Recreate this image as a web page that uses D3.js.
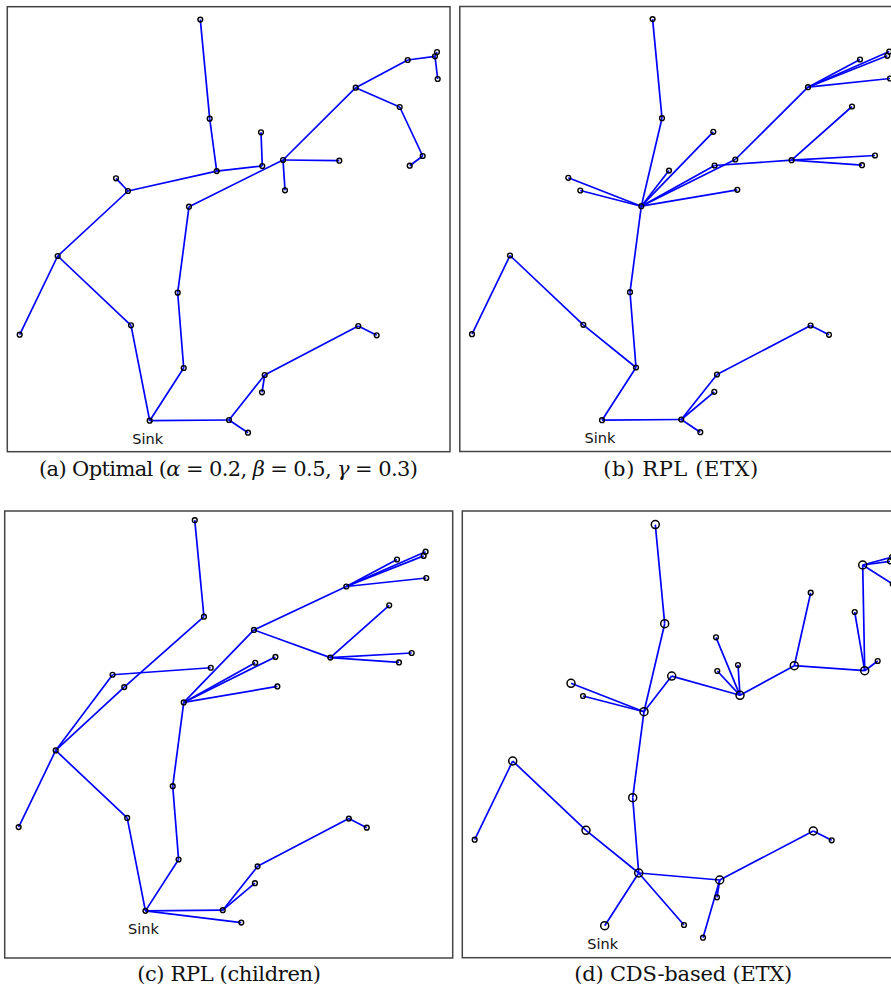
<!DOCTYPE html>
<html>
<head>
<meta charset="utf-8">
<script src="https://cdn.jsdelivr.net/npm/d3@7"></script>
<style>
  html, body { margin: 0; padding: 0; background: #fff; }
  svg { display: block; }
</style>
</head>
<body>
<div id="chart"></div>
<script>
// ---------------- DATA ----------------
// Node identifiers (node 25 is the sink)
const nodeIds = d3.range(1, 32);
// Node positions (field units, x to the right, y upwards)
const nodeX = [193.3, 202.7, 209.7, 254.0, 255.3, 276.0, 332.3, 278.0, 182.0, 121.0,
               109.0, 348.7, 400.7, 428.0, 430.0, 430.7, 392.7, 415.7, 402.7, 50.7,
               12.7, 124.0, 170.7, 176.7, 142.7, 222.0, 241.0, 257.7, 255.0, 351.3, 369.7];
const nodeY = [432.4, 333.3, 280.9, 319.7, 286.0, 292.0, 291.3, 261.7, 245.3, 261.0,
               273.7, 364.3, 392.0, 395.7, 400.0, 373.0, 345.0, 296.0, 286.3, 196.0,
               117.3, 126.7, 159.3, 84.0, 31.3, 32.0, 19.3, 77.0, 59.7, 126.0, 116.7];
const sinkId = 25;

// Tree links for each routing scheme
const edgesOptimal = [[1,2],[2,3],[3,5],[5,4],[3,10],[10,11],[10,20],[20,21],[20,22],[22,25],
  [25,24],[24,23],[23,9],[9,6],[6,7],[6,8],[6,12],[12,13],[13,14],[14,15],[14,16],[12,17],
  [17,18],[18,19],[25,26],[26,27],[26,28],[28,29],[28,30],[30,31]];
const edgesRplEtx = [[1,2],[2,9],[9,11],[9,10],[9,3],[9,4],[9,5],[9,6],[9,8],[5,7],[6,12],
  [12,13],[12,14],[12,15],[12,16],[7,17],[7,18],[7,19],[9,23],[23,24],[24,22],[22,20],[20,21],
  [24,25],[25,26],[26,27],[26,28],[26,29],[28,30],[30,31]];
const edgesRplChildren = [[1,2],[2,10],[10,20],[20,11],[11,3],[20,21],[20,22],[22,25],[25,24],
  [24,23],[23,9],[9,5],[9,6],[9,8],[9,4],[4,12],[4,7],[12,13],[12,14],[12,15],[12,16],[7,17],
  [7,18],[7,19],[25,26],[25,27],[26,28],[26,29],[28,30],[30,31]];
const edgesCds = [[1,2],[2,9],[9,11],[9,10],[9,3],[3,8],[8,4],[8,5],[8,6],[8,7],[7,12],[7,19],
  [19,17],[19,18],[19,13],[13,14],[13,15],[13,16],[9,23],[23,24],[24,22],[22,20],[20,21],
  [24,25],[24,26],[24,28],[28,29],[28,27],[28,30],[30,31]];
// Nodes belonging to the connected dominating set (drawn larger in panel d)
const cdsNodes = [1,2,3,7,8,9,11,13,19,20,22,23,24,25,28,30];

const captions = [
  [{t:"(a) Optimal ("},{t:"α",i:true},{t:" = 0.2, "},{t:"β",i:true},{t:" = 0.5, "},{t:"γ",i:true},{t:" = 0.3)"}],
  [{t:"(b) RPL (ETX)"}],
  [{t:"(c) RPL (children)"}],
  [{t:"(d) CDS-based (ETX)"}]
];
const sinkLabel = "Sink";

// ---------------- LAYOUT ----------------
const W = 891, H = 987;
const panels = [
  {edges: edgesOptimal, caption: captions[0], box:{x0:7.3,y0:6.7,x1:450,y1:451.7},
   xDom:[0.3,443], yDom:[0.3,445.3], capX:228.4, capY:476, capW:379, cds:false},
  {edges: edgesRplEtx, caption: captions[1], box:{x0:459.8,y0:6.5,x1:905,y1:451.5},
   xDom:[0.5,445.7], yDom:[0,445], capX:680.8, capY:476, capW:155, cds:false},
  {edges: edgesRplChildren, caption: captions[2], box:{x0:4.7,y0:511,x1:452.7,y1:958},
   xDom:[-1.6,457.8], yDom:[-17.1,441.8], capX:229, capY:981, capW:183.7, cds:false},
  {edges: edgesCds, caption: captions[3], box:{x0:462.3,y0:511,x1:908,y1:957.7},
   xDom:[0.3,446], yDom:[-0.7,446], capX:683.3, capY:981, capW:218, cds:true}
];

const svg = d3.select("#chart").append("svg")
  .attr("width", W).attr("height", H)
  .attr("viewBox", `0 0 ${W} ${H}`);
svg.append("rect").attr("width", W).attr("height", H).attr("fill", "#fff");

const nodes = nodeIds.map((id, k) => ({id, x: nodeX[k], y: nodeY[k]}));
const byId = new Map(nodes.map(n => [n.id, n]));
const cdsSet = new Set(cdsNodes);

panels.forEach((p, pi) => {
  const b = p.box;
  const xs = d3.scaleLinear().domain(p.xDom).range([b.x0, b.x1]);
  const ys = d3.scaleLinear().domain(p.yDom).range([b.y1, b.y0]);
  const g = svg.append("g");

  g.append("rect")
    .attr("x", b.x0).attr("y", b.y0)
    .attr("width", b.x1 - b.x0).attr("height", b.y1 - b.y0)
    .attr("fill", "none").attr("stroke", "#444").attr("stroke-width", 1.5);

  g.selectAll("line.edge").data(p.edges).join("line")
    .attr("class", "edge")
    .attr("x1", d => xs(byId.get(d[0]).x)).attr("y1", d => ys(byId.get(d[0]).y))
    .attr("x2", d => xs(byId.get(d[1]).x)).attr("y2", d => ys(byId.get(d[1]).y))
    .attr("stroke", "#0000ff").attr("stroke-width", 1.7);

  g.selectAll("circle.node").data(nodes).join("circle")
    .attr("class", "node")
    .attr("cx", d => xs(d.x)).attr("cy", d => ys(d.y))
    .attr("r", d => (p.cds && cdsSet.has(d.id)) ? 4.0 : 2.4)
    .attr("fill", "none").attr("stroke", "#000")
    .attr("stroke-width", d => (p.cds && cdsSet.has(d.id)) ? 1.5 : 1.4);

  const s = byId.get(sinkId);
  g.append("text")
    .attr("x", xs(s.x) - 2).attr("y", ys(s.y) + 23)
    .attr("text-anchor", "middle")
    .attr("font-family", "DejaVu Sans, sans-serif")
    .attr("font-size", 14.5).attr("fill", "#111")
    .text(sinkLabel);

  const cap = svg.append("text")
    .attr("x", p.capX).attr("y", p.capY)
    .attr("text-anchor", "middle")
    .attr("font-family", "DejaVu Serif, serif")
    .attr("font-size", 21).attr("fill", "#111")
    .attr("textLength", p.capW).attr("lengthAdjust", "spacing");
  p.caption.forEach(part => {
    cap.append("tspan").attr("font-style", part.i ? "italic" : null).text(part.t);
  });
});
</script>
</body>
</html>
